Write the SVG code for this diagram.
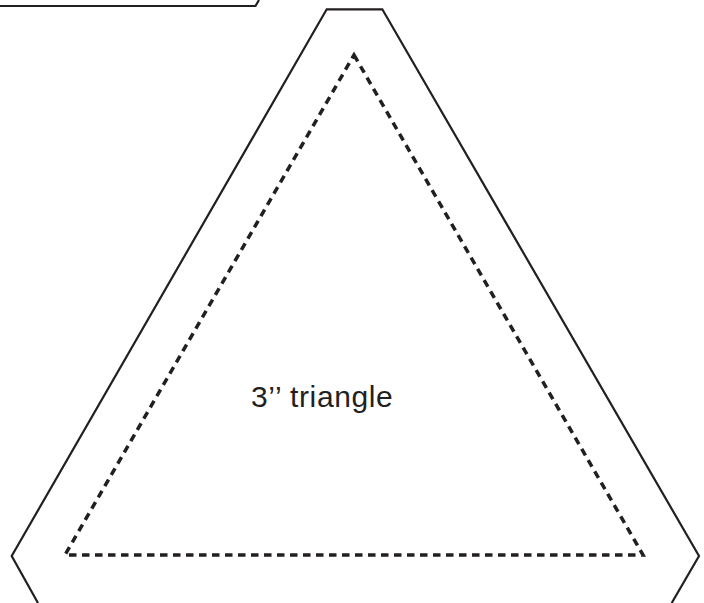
<svg xmlns="http://www.w3.org/2000/svg" width="704" height="603" viewBox="0 0 704 603">
  <style>
    .cut { fill: none; stroke: #231f20; stroke-width: 2.2; stroke-linejoin: miter; }
    .sew { fill: none; stroke: #231f20; stroke-width: 3.5; stroke-dasharray: 7.5 5.5; stroke-linejoin: miter; }
    .lbl { font-family: "Liberation Sans", Arial, sans-serif; font-size: 30px; letter-spacing: 0.6px; fill: #231f20; }
  </style>
  <rect width="704" height="603" fill="#ffffff"/>
  <g id="neighbour-piece">
    <polyline class="cut" points="0,6 255.5,6 259,0"/>
  </g>
  <g id="triangle-piece">
    <polyline class="cut" points="38,603 11.7,556 326.7,9.3 382.3,9.3 699,556 671.7,603"/>
    <polygon class="sew" points="354,55 643,555 65,555"/>
    <text class="lbl" x="251" y="407">3’’ triangle</text>
  </g>
</svg>
